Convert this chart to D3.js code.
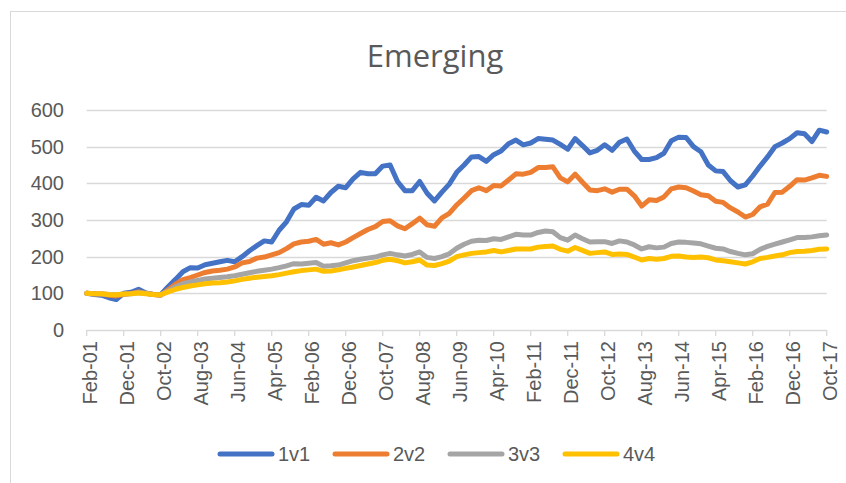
<!DOCTYPE html>
<html>
<head>
<meta charset="utf-8">
<script src="https://cdn.jsdelivr.net/npm/d3@7"></script>
<style>
  body { margin: 0; background: #fff; }
  text { font-family: "Liberation Sans", Arial, sans-serif; fill: #595959; }
</style>
</head>
<body>
<svg id="chart" width="846" height="483"></svg>
<script>
// first and last month of the monthly index (Feb-01 .. Oct-17)
var start_month = new Date(2001, 1, 1);
var end_month = new Date(2017, 9, 1);

// category labels shown on the x axis (every 10th month)
var tick_labels = ['Feb-01', 'Dec-01', 'Oct-02', 'Aug-03', 'Jun-04', 'Apr-05', 'Feb-06', 'Dec-06',
  'Oct-07', 'Aug-08', 'Jun-09', 'Apr-10', 'Feb-11', 'Dec-11', 'Oct-12', 'Aug-13', 'Jun-14',
  'Apr-15', 'Feb-16', 'Dec-16', 'Oct-17'];

var y_ticks = [0, 100, 200, 300, 400, 500, 600];

var series_names = ['1v1', '2v2', '3v3', '4v4'];

// values, one every second month starting Feb-01
var v1v1 = [100, 97, 95, 88, 83, 100, 103, 111, 101, 97, 96, 118, 138, 159, 170, 169, 178, 182, 186, 190,
  186, 200, 216, 230, 243, 240, 272, 295, 330, 342, 340, 362, 352, 375, 392, 388, 412, 430, 426, 426,
  447, 450, 405, 380, 380, 405, 373, 352, 376, 398, 430, 450, 472, 473, 460, 478, 488, 508, 518, 505,
  510, 522, 520, 518, 506, 493, 522, 503, 483, 490, 505, 490, 512, 521, 488, 465, 465, 470, 482, 516,
  526, 525, 500, 486, 450, 434, 432, 407, 390, 396, 420, 447, 472, 500, 510, 522, 538, 535, 514, 545, 540];

var v2v2 = [100, 99, 98, 95, 93, 97, 100, 104, 100, 97, 95, 110, 125, 137, 143, 150, 157, 161, 163, 166,
  172, 183, 187, 196, 199, 205, 211, 222, 235, 240, 242, 247, 234, 238, 232, 240, 252, 263, 274, 282,
  296, 298, 284, 276, 290, 305, 287, 283, 306, 318, 341, 360, 380, 388, 380, 394, 393, 409, 426, 425,
  430, 443, 443, 445, 415, 404, 425, 403, 382, 380, 385, 376, 384, 384, 366, 338, 355, 353, 363, 385,
  390, 388, 379, 369, 366, 351, 348, 333, 322, 308, 315, 336, 343, 375, 376, 392, 410, 409, 415, 422, 419];

var v3v3 = [100, 99, 99, 97, 96, 98, 99, 102, 100, 97, 96, 106, 118, 126, 131, 135, 139, 141, 143, 145,
  148, 152, 156, 160, 163, 166, 170, 175, 181, 180, 182, 184, 174, 175, 177, 183, 189, 193, 196, 199,
  205, 209, 205, 202, 206, 213, 198, 195, 200, 208, 223, 234, 242, 245, 244, 249, 247, 254, 261, 259,
  259, 266, 270, 268, 252, 245, 259, 249, 240, 241, 241, 236, 243, 240, 232, 221, 227, 224, 226, 236,
  240, 239, 237, 235, 229, 223, 221, 214, 209, 205, 208, 220, 228, 234, 240, 246, 252, 252, 254, 257, 259];

var v4v4 = [100, 99, 99, 97, 96, 98, 99, 101, 99, 97, 96, 104, 111, 116, 120, 123, 126, 128, 129, 131,
  134, 138, 141, 144, 146, 148, 151, 155, 159, 162, 164, 166, 160, 161, 164, 168, 172, 176, 180, 184,
  190, 193, 189, 183, 186, 191, 177, 176, 181, 188, 200, 205, 209, 211, 213, 217, 213, 217, 221, 221,
  221, 226, 228, 229, 220, 215, 225, 217, 209, 211, 213, 206, 207, 206, 199, 191, 195, 193, 195, 201,
  202, 199, 198, 199, 197, 191, 189, 186, 183, 180, 186, 195, 198, 202, 205, 211, 214, 215, 217, 220, 221];

var series_values = [v1v1, v2v2, v3v3, v4v4];
var series_colors = ['#4472C4', '#ED7D31', '#A5A5A5', '#FFC000'];

var svg = d3.select('#chart');
var svg_width = +svg.attr('width');
var svg_height = +svg.attr('height');
var fmt = d3.timeFormat('%b-%y');

// every month of the category axis
var months = d3.timeMonth.range(start_month, d3.timeMonth.offset(end_month, 1)).map(fmt);

var xScale = d3.scalePoint().domain(months).range([86.7, 826.7]);
var yScale = d3.scaleLinear().domain([0, 600]).range([330, 110]);

svg.append('rect')
  .attr('width', svg_width).attr('height', svg_height)
  .attr('fill', '#fff');

// outer chart frame
svg.append('rect')
  .attr('x', 10.5).attr('y', 11.5)
  .attr('width', 850).attr('height', 500)
  .attr('fill', 'none')
  .attr('stroke', '#d9d9d9')
  .attr('stroke-width', 1);

svg.append('text')
  .attr('x', 435).attr('y', 67)
  .attr('text-anchor', 'middle')
  .style('font-family', 'Open Sans, sans-serif')
  .style('font-size', '31px')
  .text('Emerging');

// horizontal gridlines
svg.append('g')
  .selectAll('line')
  .data(y_ticks)
  .enter()
  .append('line')
  .attr('x1', xScale.range()[0])
  .attr('x2', xScale.range()[1])
  .attr('y1', function(d) { return Math.round(yScale(d)) + 0.5; })
  .attr('y2', function(d) { return Math.round(yScale(d)) + 0.5; })
  .attr('stroke', '#d9d9d9')
  .attr('stroke-width', 1.3);

svg.append('g')
  .selectAll('text')
  .data(y_ticks)
  .enter()
  .append('text')
  .attr('x', 64)
  .attr('y', function(d) { return yScale(d); })
  .attr('dy', '0.35em')
  .attr('text-anchor', 'end')
  .style('font-size', '20px')
  .text(function(d) { return d; });

// x axis tick marks and rotated labels
var x_ticks = svg.append('g')
  .selectAll('g')
  .data(tick_labels)
  .enter()
  .append('g')
  .attr('transform', function(d) { return 'translate(' + xScale(d) + ',0)'; });

x_ticks.append('line')
  .attr('y1', yScale(0)).attr('y2', yScale(0) + 6)
  .attr('stroke', '#d9d9d9')
  .attr('stroke-width', 1.3);

x_ticks.append('text')
  .attr('transform', 'translate(0,' + (yScale(0) + 11) + ') rotate(-90)')
  .attr('dy', '0.5em')
  .attr('text-anchor', 'end')
  .style('font-size', '20px')
  .text(function(d) { return d; });

// series lines, first series drawn first so 4v4 sits on top
var line = d3.line()
  .x(function(d, i) { return xScale(months[i * 2]); })
  .y(function(d) { return yScale(d); });

svg.append('g')
  .selectAll('path')
  .data(series_values)
  .enter()
  .append('path')
  .attr('d', line)
  .attr('fill', 'none')
  .attr('stroke', function(d, i) { return series_colors[i]; })
  .attr('stroke-width', 5)
  .attr('stroke-linejoin', 'round')
  .attr('stroke-linecap', 'round');

// legend
var legend = svg.append('g')
  .selectAll('g')
  .data(series_names)
  .enter()
  .append('g')
  .attr('transform', function(d, i) { return 'translate(' + (218 + i * 115) + ',454)'; });

legend.append('line')
  .attr('x1', 2).attr('x2', 54)
  .attr('stroke', function(d, i) { return series_colors[i]; })
  .attr('stroke-width', 5)
  .attr('stroke-linecap', 'round');

legend.append('text')
  .attr('x', 60)
  .attr('dy', '0.35em')
  .style('font-size', '20px')
  .text(function(d) { return d; });
</script>
</body>
</html>
